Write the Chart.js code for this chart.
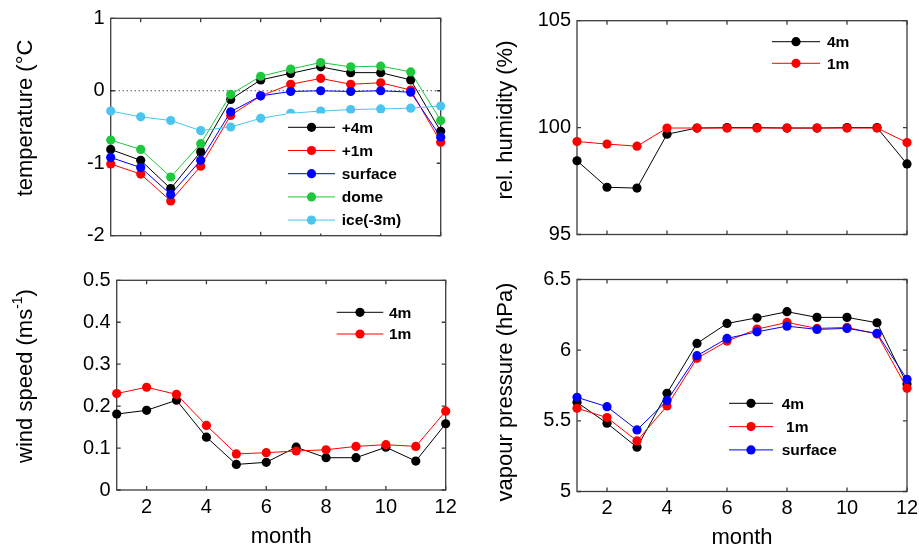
<!DOCTYPE html>
<html>
<head>
<meta charset="utf-8">
<script src="https://cdn.jsdelivr.net/npm/chart.js@4/dist/chart.umd.min.js"></script>
<style>
  html, body { margin: 0; padding: 0; background: #fff; }
  #wrap { position: relative; width: 919px; height: 545px; overflow: hidden; background: #fff; }
  #wrap canvas { position: absolute; left: 0; top: 0; }
</style>
</head>
<body>
<div id="wrap">
  <canvas id="cTemp" width="919" height="545"></canvas>
  <canvas id="cRh" width="919" height="545"></canvas>
  <canvas id="cWind" width="919" height="545"></canvas>
  <canvas id="cVap" width="919" height="545"></canvas>
</div>
<script>
// ---- monthly means ----
const months = [1, 2, 3, 4, 5, 6, 7, 8, 9, 10, 11, 12];
const monthTicks = [2, 4, 6, 8, 10, 12];

// air / snow temperature (°C)
const temp4m      = [-0.81, -0.96, -1.35, -0.84, -0.12, 0.15, 0.24, 0.33, 0.25, 0.25, 0.15, -0.56];
const temp1m      = [-1.01, -1.15, -1.52, -1.04, -0.34, -0.07, 0.09, 0.17, 0.09, 0.11, 0.01, -0.71];
const tempSurface = [-0.92, -1.06, -1.43, -0.96, -0.29, -0.07, -0.01, 0.00, -0.01, 0.00, -0.02, -0.64];
const tempDome    = [-0.68, -0.81, -1.19, -0.73, -0.05, 0.20, 0.30, 0.39, 0.33, 0.34, 0.26, -0.41];
const tempIce     = [-0.28, -0.36, -0.41, -0.55, -0.50, -0.38, -0.31, -0.28, -0.26, -0.25, -0.24, -0.21];
const tempTicks   = [-2, -1, 0, 1];

// relative humidity (%)
const rh4m = [98.45, 97.21, 97.17, 99.69, 99.98, 100.0, 100.0, 99.98, 99.98, 100.0, 100.0, 98.30];
const rh1m = [99.35, 99.23, 99.13, 99.98, 99.98, 99.98, 99.98, 99.98, 99.98, 99.98, 99.98, 99.30];
const rhTicks = [95, 100, 105];

// wind speed (m/s)
const wind4m = [0.181, 0.190, 0.214, 0.126, 0.061, 0.066, 0.102, 0.077, 0.077, 0.102, 0.069, 0.158];
const wind1m = [0.230, 0.245, 0.228, 0.154, 0.086, 0.089, 0.093, 0.096, 0.104, 0.108, 0.104, 0.188];
const windTicks = [0, 0.1, 0.2, 0.3, 0.4, 0.5];

// vapour pressure (hPa)
const vap4m      = [5.631, 5.483, 5.313, 5.695, 6.048, 6.189, 6.229, 6.272, 6.232, 6.232, 6.194, 5.760];
const vap1m      = [5.589, 5.523, 5.358, 5.605, 5.942, 6.064, 6.149, 6.196, 6.154, 6.161, 6.114, 5.730];
const vapSurface = [5.666, 5.600, 5.436, 5.643, 5.961, 6.083, 6.130, 6.170, 6.147, 6.154, 6.119, 5.794];
const vapTicks   = [5, 5.5, 6, 6.5];

// ---- styling ----
const FONT = "'Liberation Sans', Arial, Helvetica, sans-serif";
const COLORS = { black: '#000000', red: '#ff0000', blue: '#0000ff', green: '#1ec83c', ice: '#4cc4f0' };
const FRAME = '#3c3c3c';
const W = 919, H = 545, YW = 60, XH = 60;

Chart.defaults.font.family = FONT;
Chart.defaults.color = '#000';

// box around the axes with inward ticks on all four sides
const framePlugin = {
  id: 'frame',
  beforeDatasetsDraw(chart) {
    const { ctx, chartArea: a, scales } = chart;
    ctx.save();
    ctx.strokeStyle = FRAME;
    ctx.lineWidth = 1.3;
    ctx.strokeRect(a.left, a.top, a.right - a.left, a.bottom - a.top);
    const len = 4;
    ctx.beginPath();
    scales.x.ticks.forEach(t => {
      const px = scales.x.getPixelForValue(t.value);
      ctx.moveTo(px, a.bottom); ctx.lineTo(px, a.bottom - len);
      ctx.moveTo(px, a.top); ctx.lineTo(px, a.top + len);
    });
    scales.y.ticks.forEach(t => {
      const py = scales.y.getPixelForValue(t.value);
      ctx.moveTo(a.left, py); ctx.lineTo(a.left + len, py);
      ctx.moveTo(a.right, py); ctx.lineTo(a.right - len, py);
    });
    ctx.stroke();
    ctx.restore();
  }
};

// dotted reference line at a given y value
const refLinePlugin = {
  id: 'refLine',
  beforeDatasetsDraw(chart, args, opts) {
    if (opts.value === undefined) return;
    const { ctx, chartArea: a, scales } = chart;
    const py = scales.y.getPixelForValue(opts.value);
    ctx.save();
    ctx.strokeStyle = '#000';
    ctx.lineWidth = 1;
    ctx.setLineDash([1, 3]);
    ctx.beginPath();
    ctx.moveTo(a.left, py); ctx.lineTo(a.right, py);
    ctx.stroke();
    ctx.restore();
  }
};

// legend with white background, line + marker sample per series
const boxLegendPlugin = {
  id: 'boxLegend',
  afterDatasetsDraw(chart, args, o) {
    if (!o || o.x === undefined) return;
    const ctx = chart.ctx;
    ctx.save();
    if (o.box) {
      ctx.fillStyle = '#fff';
      ctx.fillRect(o.box[0], o.box[1], o.box[2], o.box[3]);
    }
    ctx.font = 'bold 15.5px ' + FONT;
    ctx.textBaseline = 'middle';
    ctx.textAlign = 'left';
    chart.data.datasets.forEach((ds, i) => {
      const y = o.y + i * o.step;
      ctx.strokeStyle = ds.borderColor;
      ctx.lineWidth = 1;
      ctx.beginPath();
      ctx.moveTo(o.x, y); ctx.lineTo(o.x + o.len, y);
      ctx.stroke();
      ctx.fillStyle = ds.backgroundColor;
      ctx.beginPath();
      ctx.arc(o.x + o.len / 2, y, 4.6, 0, Math.PI * 2);
      ctx.fill();
      ctx.fillStyle = '#000';
      ctx.fillText(ds.label, o.textX, y + 1);
    });
    ctx.restore();
  }
};

// rotated y-axis label, optional superscript part
const yLabelPlugin = {
  id: 'yLabel',
  afterDraw(chart, args, o) {
    if (!o || !o.parts) return;
    const ctx = chart.ctx;
    const big = '22px ' + FONT, small = '14px ' + FONT;
    ctx.save();
    ctx.translate(o.x, o.y);
    ctx.rotate(-Math.PI / 2);
    let total = 0;
    o.parts.forEach(p => { ctx.font = p.sup ? small : big; total += ctx.measureText(p.text).width; });
    let cx = -total / 2;
    ctx.fillStyle = '#000';
    ctx.textBaseline = 'middle';
    ctx.textAlign = 'left';
    o.parts.forEach(p => {
      ctx.font = p.sup ? small : big;
      ctx.fillText(p.text, cx, p.sup ? -8 : 0);
      cx += ctx.measureText(p.text).width;
    });
    ctx.restore();
  }
};

function series(label, values, color, idx) {
  return {
    label: label,
    data: values.map((v, i) => ({ x: months[i], y: v })),
    borderColor: color,
    backgroundColor: color,
    borderWidth: 1,
    pointRadius: 4.6,
    pointBorderWidth: 0,
    pointBackgroundColor: color,
    tension: 0,
    clip: false,
    order: -idx
  };
}

function makePanel(id, p) {
  const pad = {
    left: p.area.left - YW,
    right: W - p.area.right,
    top: p.area.top,
    bottom: H - p.area.bottom - XH
  };
  return new Chart(document.getElementById(id), {
    type: 'line',
    data: { datasets: p.datasets },
    plugins: [framePlugin, refLinePlugin, boxLegendPlugin, yLabelPlugin],
    options: {
      responsive: false,
      devicePixelRatio: 1,
      animation: false,
      events: [],
      layout: { padding: pad },
      scales: {
        x: {
          type: 'linear', min: 1, max: 12,
          afterBuildTicks: s => { s.ticks = monthTicks.map(v => ({ value: v })); },
          afterFit: s => { s.height = XH; s.paddingLeft = 0; s.paddingRight = 0; },
          grid: { display: false, drawTicks: false },
          border: { display: false },
          ticks: { display: p.showX, padding: 5, font: { size: 20 }, color: '#000' },
          title: { display: p.showX, text: 'month', font: { size: 22 }, color: '#000', padding: { top: 0, bottom: 0 } }
        },
        y: {
          type: 'linear', min: p.yMin, max: p.yMax,
          afterBuildTicks: s => { s.ticks = p.yTicks.map(v => ({ value: v })); },
          afterFit: s => { s.width = YW; s.paddingTop = 0; s.paddingBottom = 0; },
          grid: { display: false, drawTicks: false },
          border: { display: false },
          ticks: { padding: 6, font: { size: 20 }, color: '#000', callback: v => String(v) }
        }
      },
      plugins: {
        legend: { display: false },
        tooltip: { enabled: false },
        refLine: { value: p.refLine },
        boxLegend: p.legend,
        yLabel: p.yLabel
      }
    }
  });
}

makePanel('cTemp', {
  area: { left: 110.7, top: 18.3, right: 440.7, bottom: 235.7 },
  yMin: -2, yMax: 1, yTicks: tempTicks, showX: false, refLine: 0,
  datasets: [
    series('+4m', temp4m, COLORS.black, 0),
    series('+1m', temp1m, COLORS.red, 1),
    series('surface', tempSurface, COLORS.blue, 2),
    series('dome', tempDome, COLORS.green, 3),
    series('ice(-3m)', tempIce, COLORS.ice, 4)
  ],
  legend: { x: 288, len: 47, y: 127.3, step: 23.2, textX: 341.7, box: [286, 113.5, 124, 120] },
  yLabel: { x: 26, y: 118, parts: [{ text: 'temperature (°C' }] }
});

makePanel('cRh', {
  area: { left: 577, top: 20.7, right: 907, bottom: 234.5 },
  yMin: 95, yMax: 105, yTicks: rhTicks, showX: false,
  datasets: [
    series('4m', rh4m, COLORS.black, 0),
    series('1m', rh1m, COLORS.red, 1)
  ],
  legend: { x: 772, len: 48, y: 41.7, step: 21.6, textX: 827, box: [766, 30, 100, 45] },
  yLabel: { x: 506, y: 120, parts: [{ text: 'rel. humidity (%)' }] }
});

makePanel('cWind', {
  area: { left: 116.7, top: 280.3, right: 445.7, bottom: 490 },
  yMin: 0, yMax: 0.5, yTicks: windTicks, showX: true,
  datasets: [
    series('4m', wind4m, COLORS.black, 0),
    series('1m', wind1m, COLORS.red, 1)
  ],
  legend: { x: 336.7, len: 46.6, y: 312.3, step: 21.7, textX: 389, box: [330, 300, 100, 45] },
  yLabel: { x: 26, y: 376, parts: [{ text: 'wind speed (ms' }, { text: '-1', sup: true }, { text: ')' }] }
});

makePanel('cVap', {
  area: { left: 577, top: 279.5, right: 907, bottom: 491.5 },
  yMin: 5, yMax: 6.5, yTicks: vapTicks, showX: true,
  datasets: [
    series('4m', vap4m, COLORS.black, 0),
    series(' 1m', vap1m, COLORS.red, 1),
    series('surface', vapSurface, COLORS.blue, 2)
  ],
  legend: { x: 729, len: 44, y: 403.3, step: 23.3, textX: 781.7, box: [724, 390, 120, 72] },
  yLabel: { x: 506, y: 392, parts: [{ text: 'vapour pressure (hPa)' }] }
});
</script>
</body>
</html>
